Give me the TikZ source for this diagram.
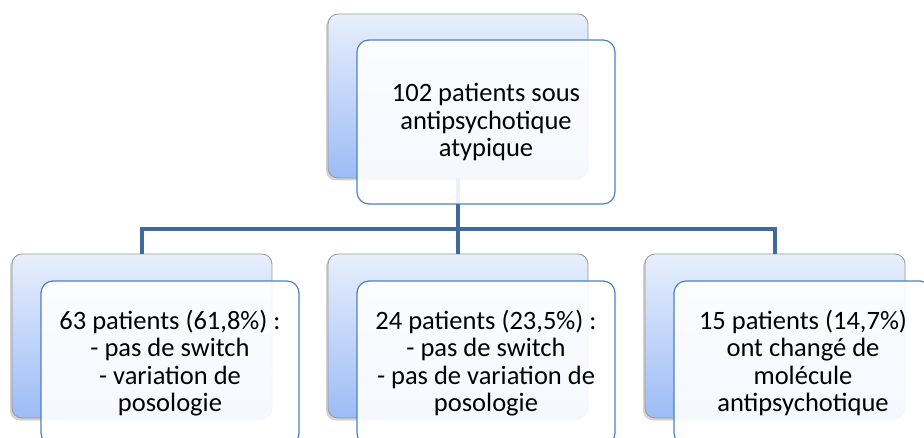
\documentclass[tikz,border=0pt]{standalone}
\usepackage{fontspec}
\setmainfont{Carlito}
\usetikzlibrary{positioning,shadows}

\definecolor{linkblue}{RGB}{63,106,156}
\definecolor{frontblue}{RGB}{79,129,189}
\definecolor{backtop}{RGB}{232,239,252}
\definecolor{backbot}{RGB}{156,188,246}

\begin{document}
\begin{tikzpicture}[x=1pt, y=-1pt,
    back/.style={rectangle, rounded corners=10pt, draw=gray!80, line width=0.8pt,
        top color=backtop, bottom color=backbot, minimum width=260pt, minimum height=164pt,
        inner sep=0pt, outer sep=0pt,
        drop shadow={shadow xshift=-2pt, shadow yshift=-2.5pt, opacity=0.35}},
    front/.style={rectangle, rounded corners=12pt, draw=frontblue, line width=1.2pt,
        fill=white, fill opacity=0.9, text opacity=1, minimum width=258pt, minimum height=164pt,
        inner sep=0pt, outer sep=0pt, align=center,
        font=\fontsize{26.5}{27.6}\selectfont},
    link/.style={draw=linkblue, line width=4.5pt}]
    \useasboundingbox (0,0) rectangle (924,438);

    % back boxes
    \node (topback) [back] at (458,96) {};
    \node (leftback) [back] at (142,336) {};
    \node (midback) [back] at (458,336) {};
    \node (rightback) [back] at (775,336) {};

    % connectors
    \coordinate (split) at (458,229);
    \draw[link] (topback.south) -- (midback.north);
    \draw[link] (leftback.north) |- (split) -| (rightback.north);

    % front boxes
    \node (topfront) [front, xshift=28pt, yshift=-26pt] at (topback) {102 patients sous\\antipsychotique\\atypique};
    \node (leftfront) [front, xshift=28pt, yshift=-27pt] at (leftback) {63 patients (61,8\%) :\\- pas de switch\\- variation de\\posologie};
    \node (midfront) [front, xshift=28pt, yshift=-27pt] at (midback) {24 patients (23,5\%) :\\- pas de switch\\- pas de variation de\\posologie};
    \node (rightfront) [front, xshift=28pt, yshift=-27pt] at (rightback) {15 patients (14,7\%)\\ont changé de\\molécule\\antipsychotique};
\end{tikzpicture}
\end{document}
